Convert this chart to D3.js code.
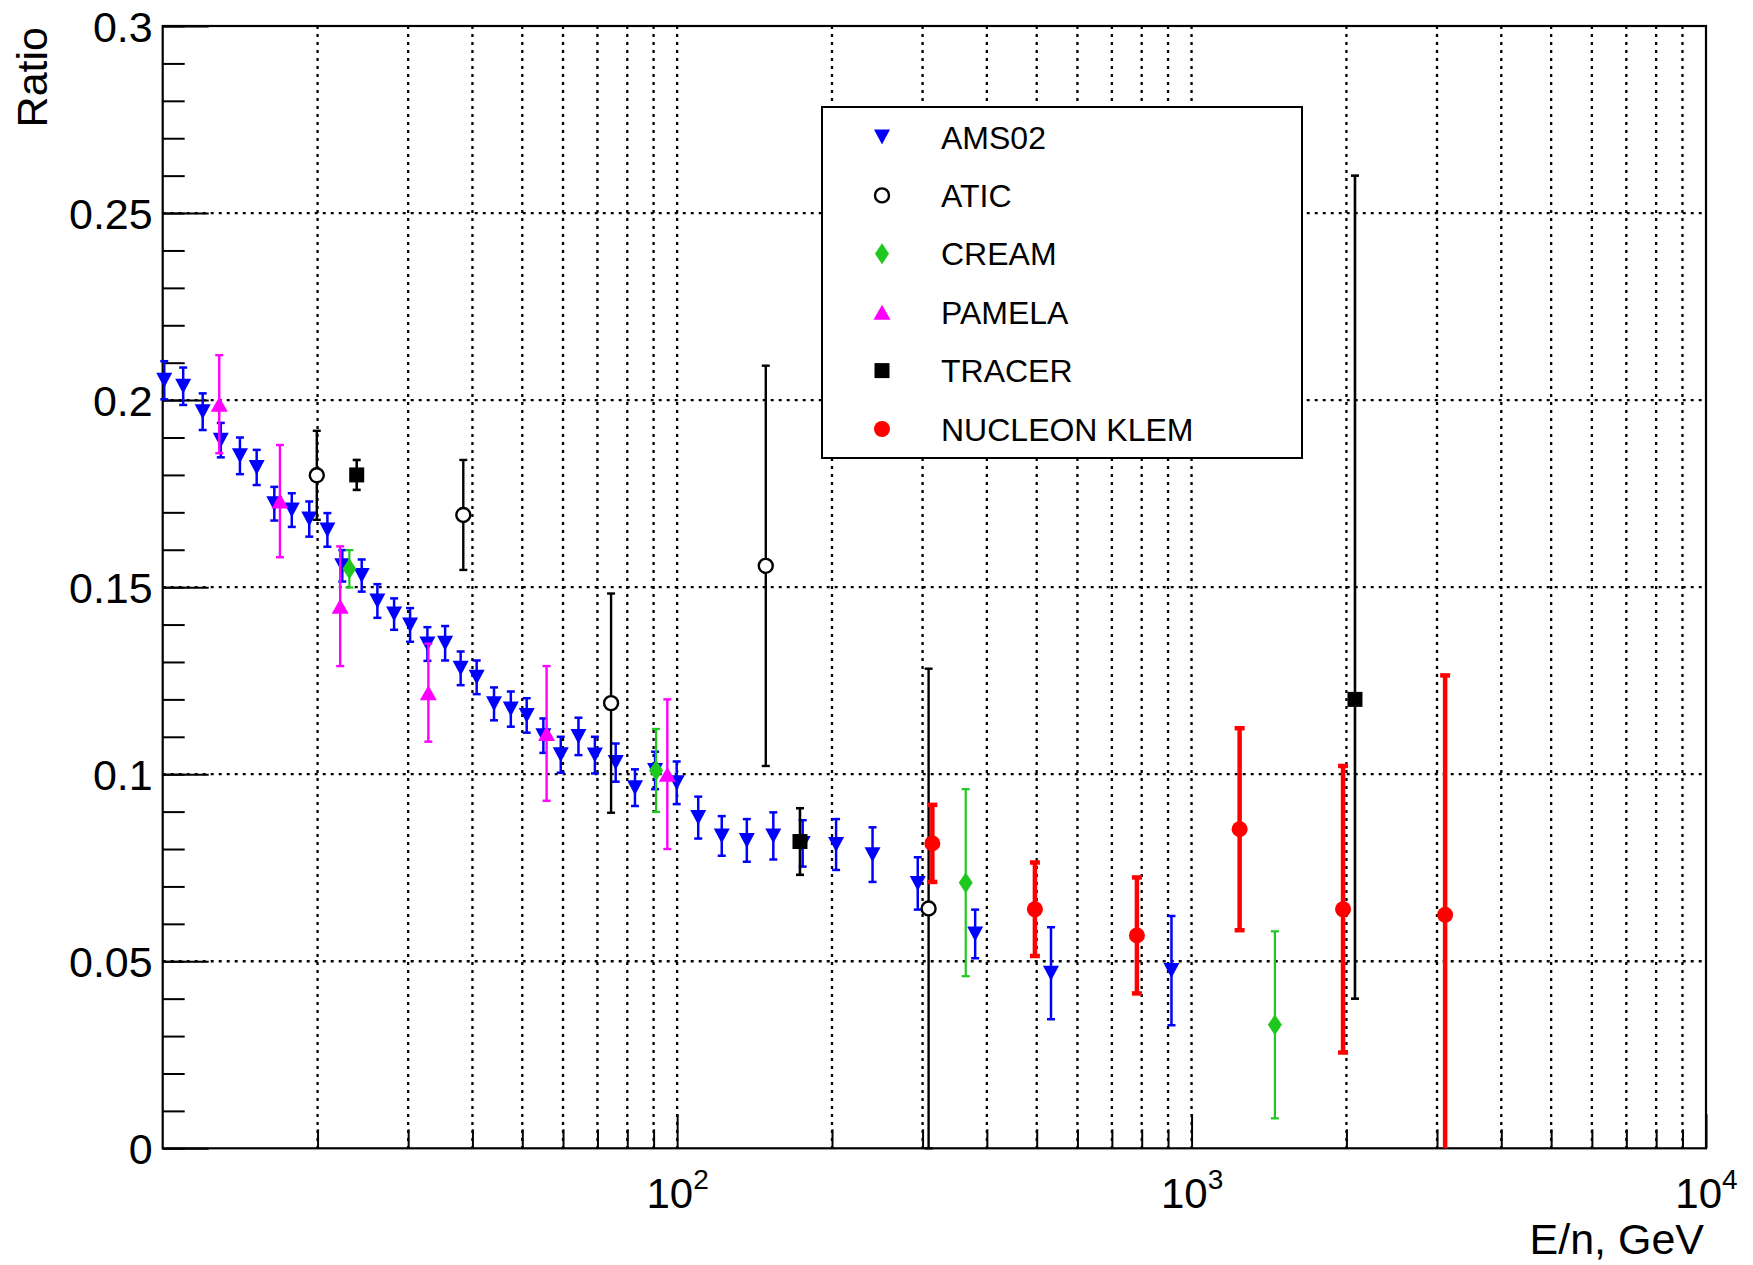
<!DOCTYPE html>
<html>
<head>
<meta charset="utf-8">
<script src="https://cdn.jsdelivr.net/npm/d3@7"></script>
<style>
  body { margin: 0; background: #fff; }
  svg { display: block; }
  text { font-family: "Liberation Sans", Arial, Helvetica, sans-serif; fill: #000; }
</style>
</head>
<body>
<div class="canvas"></div>
<script>
// data: energy per nucleon (GeV), ratio, error (up / down)
const amsE = [10.07, 10.96, 11.96, 12.97, 14.13, 15.23, 16.48, 17.82, 19.27, 20.9, 22.34, 24.37, 26.14, 28.17,
  30.26, 32.7, 35.4, 37.95, 40.77, 44.06, 47.5, 51.0, 54.95, 59.4, 64.3, 69.2, 75.96, 82.8, 90.6, 99.8,
  109.9, 122.1, 136.6, 153.8, 175.4, 203.7, 239.8, 293.6, 379.6, 533, 914];
const amsRatio = [0.2053, 0.2037, 0.1969, 0.1893, 0.1851, 0.1820, 0.1723, 0.1706, 0.1682, 0.1653, 0.1557, 0.1531,
  0.1463, 0.1428, 0.1399, 0.1348, 0.1350, 0.1283, 0.1259, 0.1188, 0.1174, 0.1157, 0.1103, 0.1052, 0.1101, 0.1051,
  0.1031, 0.0964, 0.1010, 0.0977, 0.0884, 0.0835, 0.0823, 0.0835, 0.0815, 0.0812, 0.0785, 0.0708, 0.0573, 0.0468, 0.0475];
const amsErr = [0.0051, 0.0050, 0.0049, 0.0046, 0.0049, 0.0047, 0.0045, 0.0045, 0.0047, 0.0045, 0.0042, 0.0043,
  0.0045, 0.0042, 0.0045, 0.0045, 0.0046, 0.0045, 0.0045, 0.0044, 0.0047, 0.0046, 0.0046, 0.0048, 0.0050, 0.0049,
  0.0051, 0.0049, 0.0050, 0.0057, 0.0056, 0.0053, 0.0057, 0.0063, 0.0062, 0.0068, 0.0073, 0.0070, 0.0065, 0.0123, 0.0146];

const aticE = [19.93, 38.4, 74.4, 148.7, 308.2];
const aticRatio = [0.1799, 0.1693, 0.1190, 0.1557, 0.0641];
const aticErr = [0.0119, 0.0147, 0.0293, 0.0535, 0.0641];

const creamE = [23.06, 91.0, 363.9, 1452];
const creamRatio = [0.1549, 0.1010, 0.0710, 0.0330];
const creamErr = [0.0050, 0.0111, 0.0250, 0.0250];

const pamelaE = [12.88, 16.9, 22.13, 32.84, 55.75, 95.7];
const pamelaRatio = [0.1989, 0.1730, 0.1449, 0.1218, 0.1109, 0.1000];
const pamelaErr = [0.0131, 0.0150, 0.0160, 0.0131, 0.0180, 0.0200];

const tracerE = [23.83, 173.3, 2078];
const tracerRatio = [0.1800, 0.0820, 0.1200];
const tracerErrUp = [0.0040, 0.0089, 0.1400];
const tracerErrDown = [0.0040, 0.0089, 0.0800];

const nucleonE = [313.4, 496, 783, 1240, 1970, 3111];
const nucleonRatio = [0.0815, 0.0639, 0.0569, 0.0853, 0.0639, 0.0624];
const nucleonErr = [0.0103, 0.0125, 0.0155, 0.0270, 0.0383, 0.0640];

const xDomain = [10, 10000];
const yDomain = [0, 0.3];
const yMajor = [0, 0.05, 0.1, 0.15, 0.2, 0.25, 0.3];
const xLabelled = [100, 1000, 10000];

// layout
const W = 1753, H = 1265;
const plot = { left: 162.7, right: 1706, top: 26, bottom: 1148.3 };

const zip = (e, r, up, down) => e.map((v, i) => ({ e: v, r: r[i], up: up[i], down: (down || up)[i] }));

const series = [
  { name: 'AMS02', data: zip(amsE, amsRatio, amsErr), color: '#0000ff', shape: 'tridown', lw: 2.5, cap: 8 },
  { name: 'ATIC', data: zip(aticE, aticRatio, aticErr), color: '#000000', shape: 'open', lw: 2.4, cap: 8 },
  { name: 'CREAM', data: zip(creamE, creamRatio, creamErr), color: '#1fc81f', shape: 'diamond', lw: 2.2, cap: 8 },
  { name: 'PAMELA', data: zip(pamelaE, pamelaRatio, pamelaErr), color: '#ff00ff', shape: 'triup', lw: 2.4, cap: 8 },
  { name: 'TRACER', data: zip(tracerE, tracerRatio, tracerErrUp, tracerErrDown), color: '#000000', shape: 'square', lw: 2.6, cap: 8 },
  { name: 'NUCLEON KLEM', data: zip(nucleonE, nucleonRatio, nucleonErr), color: '#ff0000', shape: 'circle', lw: 4.5, cap: 10 }
];

const svg = d3.select('.canvas').append('svg')
  .attr('width', W).attr('height', H);

svg.append('rect').attr('width', W).attr('height', H).attr('fill', '#fff');

const x = d3.scaleLog().domain(xDomain).range([plot.left, plot.right]);
const y = d3.scaleLinear().domain(yDomain).range([plot.bottom, plot.top]);

// grid
const logTicks = x.ticks().filter(t => t > xDomain[0] && t < xDomain[1]);
const grid = svg.append('g')
  .attr('stroke', '#000').attr('stroke-width', 2.3).attr('stroke-dasharray', '3,5');
grid.selectAll('.vg').data(logTicks).enter().append('line')
  .attr('x1', d => x(d)).attr('x2', d => x(d))
  .attr('y1', plot.top).attr('y2', plot.bottom);
grid.selectAll('.hg').data(yMajor.filter(v => v > 0 && v < 0.3)).enter().append('line')
  .attr('x1', plot.left).attr('x2', plot.right)
  .attr('y1', d => y(d)).attr('y2', d => y(d));

// axes (ticks inside, like ROOT)
const yMinor = d3.range(0, 0.3001, 0.01).map(v => +v.toFixed(2));
svg.append('g').attr('transform', `translate(${plot.left},0)`)
  .call(d3.axisLeft(y).tickValues(yMinor).tickSize(-22).tickFormat(''))
  .call(g => g.select('.domain').remove())
  .call(g => g.selectAll('line').attr('stroke-width', 2));
svg.append('g').attr('transform', `translate(${plot.left},0)`)
  .call(d3.axisLeft(y).tickValues(yMajor).tickSize(-46).tickPadding(10).tickFormat(d => d3.format('')(d)))
  .call(g => g.select('.domain').remove())
  .call(g => g.selectAll('line').attr('stroke-width', 2))
  .call(g => g.selectAll('text').attr('font-size', 43).attr('dy', '0.35em')
    .style('font-family', '"Liberation Sans", Arial, sans-serif'));

svg.append('g').attr('transform', `translate(0,${plot.bottom})`)
  .call(d3.axisBottom(x).tickValues(logTicks.filter(t => !xLabelled.includes(t))).tickSize(-19).tickFormat(''))
  .call(g => g.select('.domain').remove())
  .call(g => g.selectAll('line').attr('stroke-width', 2));
svg.append('g').attr('transform', `translate(0,${plot.bottom})`)
  .call(d3.axisBottom(x).tickValues(xLabelled).tickSize(-34).tickFormat(''))
  .call(g => g.select('.domain').remove())
  .call(g => g.selectAll('line').attr('stroke-width', 2))
  .call(g => g.selectAll('.tick text').each(function (d) {
    const t = d3.select(this).attr('y', 60).attr('dy', null).attr('font-size', 42)
      .style('font-family', '"Liberation Sans", Arial, sans-serif');
    t.append('tspan').text('10');
    t.append('tspan').attr('font-size', 28).attr('dy', -19).text(Math.round(Math.log10(d)));
  }));

// frame
svg.append('rect')
  .attr('x', plot.left).attr('y', plot.top)
  .attr('width', plot.right - plot.left).attr('height', plot.bottom - plot.top)
  .attr('fill', 'none').attr('stroke', '#000').attr('stroke-width', 2.2);

// axis titles
svg.append('text')
  .attr('transform', `translate(47,${plot.top + 1}) rotate(-90)`)
  .attr('text-anchor', 'end').attr('font-size', 43)
  .text('Ratio');
svg.append('text')
  .attr('x', plot.right - 2).attr('y', 1254)
  .attr('text-anchor', 'end').attr('font-size', 43)
  .text('E/n, GeV');

// marker shapes
const markerPath = (shape) => {
  switch (shape) {
    case 'tridown': return 'M-8,-7.5L8,-7.5L0,7.5Z';
    case 'triup': return 'M-8.5,7.5L8.5,7.5L0,-7.5Z';
    case 'diamond': return 'M0,-10.5L7,0L0,10.5L-7,0Z';
    case 'square': return 'M-7.5,-7.5H7.5V7.5H-7.5Z';
    default: return null;
  }
};
const drawMarker = (g, shape, color) => {
  if (shape === 'open') {
    g.append('circle').attr('r', 7).attr('fill', '#fff').attr('stroke', color).attr('stroke-width', 2.4);
  } else if (shape === 'circle') {
    g.append('circle').attr('r', 8).attr('fill', color);
  } else {
    g.append('path').attr('d', markerPath(shape)).attr('fill', color);
  }
};

// data: error bars then markers, series in legend order
const yClamp = v => y(Math.max(yDomain[0], Math.min(yDomain[1], v)));
series.forEach(s => {
  const g = svg.append('g').attr('class', 'series');
  const bars = g.selectAll('.bar').data(s.data).enter().append('g')
    .attr('stroke', s.color).attr('stroke-width', s.lw);
  bars.append('line')
    .attr('x1', d => x(d.e)).attr('x2', d => x(d.e))
    .attr('y1', d => yClamp(d.r + d.up)).attr('y2', d => yClamp(d.r - d.down));
  bars.filter(d => d.r + d.up <= yDomain[1]).append('line')
    .attr('x1', d => x(d.e) - s.cap / 2).attr('x2', d => x(d.e) + s.cap / 2)
    .attr('y1', d => y(d.r + d.up)).attr('y2', d => y(d.r + d.up));
  bars.filter(d => d.r - d.down >= yDomain[0]).append('line')
    .attr('x1', d => x(d.e) - s.cap / 2).attr('x2', d => x(d.e) + s.cap / 2)
    .attr('y1', d => y(d.r - d.down)).attr('y2', d => y(d.r - d.down));
  g.selectAll('.pt').data(s.data).enter().append('g')
    .attr('transform', d => `translate(${x(d.e)},${y(d.r)})`)
    .each(function () { drawMarker(d3.select(this), s.shape, s.color); });
});

// legend
const legend = svg.append('g');
legend.append('rect')
  .attr('x', 822).attr('y', 107).attr('width', 480).attr('height', 351)
  .attr('fill', '#fff').attr('stroke', '#000').attr('stroke-width', 2);
const rows = legend.selectAll('.row').data(series).enter().append('g')
  .attr('transform', (d, i) => `translate(882,${137 + i * 58.4})`);
rows.each(function (d) { drawMarker(d3.select(this), d.shape, d.color); });
rows.append('text')
  .attr('x', 59).attr('y', 11.5)
  .attr('font-size', 32)
  .text(d => d.name);
</script>
</body>
</html>
